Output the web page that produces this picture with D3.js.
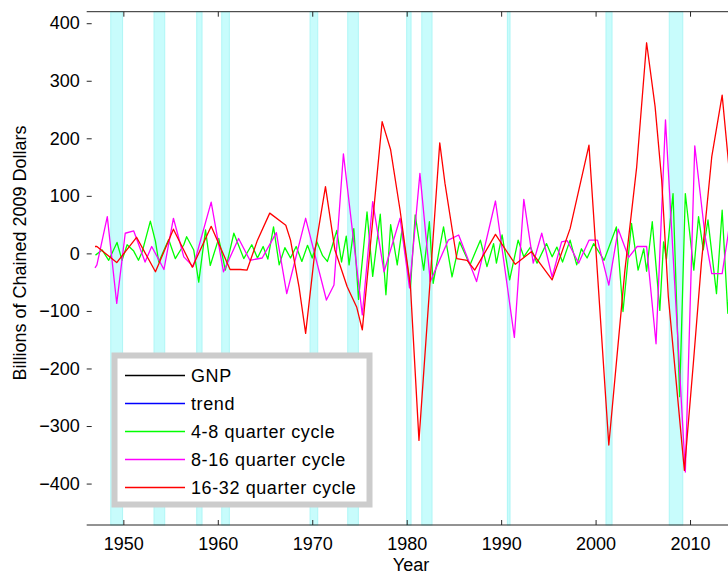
<!DOCTYPE html>
<html>
<head>
<meta charset="utf-8">
<script src="https://cdn.jsdelivr.net/npm/d3@7"></script>
<style>
  body { margin: 0; background: #fff; }
  text { font-family: "Liberation Sans", Arial, sans-serif; }
</style>
</head>
<body>
<div id="chart"></div>
<script>
// recession bands (start, end) in years
var recessions = [
  [1948.67, 1949.92], [1953.25, 1954.38], [1957.77, 1958.33], [1960.42, 1961.22],
  [1969.77, 1970.58], [1973.76, 1974.88], [1980.0, 1980.46], [1981.6, 1982.68],
  [1990.66, 1990.94], [2001.1, 2001.74], [2007.8, 2009.23]
];

// 16-32 quarter cycle
var redYears = [1947.0, 1947.2, 1949.3, 1951.4, 1953.4, 1955.3, 1957.3, 1959.3, 1961.3, 1962.4,
  1963.1, 1964.2, 1965.5, 1967.2, 1967.7, 1968.6, 1969.3, 1970.3, 1971.4, 1972.4, 1973.7, 1974.7,
  1975.3, 1977.4, 1978.3, 1979.3, 1980.4, 1981.3, 1983.5, 1984.05, 1985.1, 1985.3, 1986.4, 1987.2,
  1989.4, 1991.5, 1993.2, 1995.4, 1997.3, 1999.3, 2001.4, 2003.1, 2004.35, 2005.4, 2006.3, 2007.0,
  2007.7, 2009.4, 2010.35, 2011.2, 2012.3, 2013.4, 2014.75];
var redValues = [12, 12, -16, 28, -32, 42, -24, 47, -28, -28,
  -29, 23, 70, 49, 23, -58, -139, 6, 116, 6, -58, -93,
  -133, 229, 180, 75, -58, -325, 192, 122, 12, -9, -12, -29,
  33, -19, 3, -46, 43, 188, -333, -30, 150, 366, 255, 127,
  -75, -377, -191, -17, 168, 275, 40];

// 8-16 quarter cycle
var magYears = [1947.0, 1947.2, 1948.3, 1949.3, 1950.2, 1951.1, 1952.3, 1953.0, 1954.3, 1955.3,
  1956.4, 1957.4, 1959.3, 1960.6, 1962.2, 1963.4, 1964.7, 1966.2, 1967.3, 1969.3, 1971.5, 1972.3,
  1973.3, 1975.3, 1976.4, 1977.6, 1979.3, 1980.3, 1981.4, 1982.5, 1984.4, 1985.5, 1987.4, 1989.4,
  1991.4, 1992.4, 1993.4, 1994.3, 1995.4, 1996.4, 1997.0, 1998.2, 1999.3, 2000.2, 2001.4, 2002.4,
  2003.5, 2004.4, 2005.4, 2006.4, 2007.4, 2009.5, 2010.5, 2011.6, 2012.3, 2013.4, 2014.0, 2014.75];
var magValues = [-25, -20, 64, -87, 35, 39, -15, 12, -28, 61,
  -6, -23, 89, -32, 26, -12, -8, 36, -70, 61, -81, -55,
  173, -107, 90, -32, 61, -60, 139, -49, 23, 32, -49, 91,
  -146, 94, -17, 35, -41, 20, 22, -17, 23, 23, -55, 42,
  -7, 12, 12, -157, 232, -380, 187, 29, -35, -35, 29, 120];

// 4-8 quarter cycle
var grnYears = [1947.05, 1947.75, 1948.45, 1949.33, 1949.86, 1950.4, 1951.1, 1951.6, 1952.0, 1952.86,
  1953.4, 1953.75, 1954.8, 1955.5, 1956.4, 1956.7, 1957.45, 1957.98, 1958.7, 1959.2, 1960.1, 1960.8,
  1961.7, 1962.75, 1963.6, 1964.2, 1964.8, 1965.3, 1965.9, 1966.5, 1967.1, 1967.7, 1968.3, 1968.9,
  1969.5, 1970.0, 1970.5, 1971.1, 1971.6, 1972.1, 1972.6, 1973.1, 1973.6, 1973.9, 1974.4, 1974.9,
  1975.8, 1976.4, 1977.2, 1977.8, 1978.3, 1979.0, 1979.5, 1980.4, 1980.9, 1981.8, 1982.4, 1982.8,
  1983.9, 1984.8, 1985.6, 1986.7, 1987.8, 1988.5, 1989.2, 1989.5, 1990.1, 1990.9, 1991.8, 1992.4,
  1993.1, 1993.8, 1994.8, 1995.4, 1995.9, 1996.5, 1997.3, 1998.0, 1998.5, 1999.1, 1999.8, 2000.9,
  2002.2, 2002.9, 2003.8, 2004.5, 2005.1, 2005.4, 2006.0, 2006.8, 2007.2, 2007.5, 2008.2, 2008.9,
  2009.5, 2010.4, 2010.9, 2011.4, 2011.9, 2012.8, 2013.4, 2014.0, 2014.5];
var grnValues = [-3, 6, -12, 19, -12, 15, 4, -12, 3, 56,
  21, -15, 24, -9, 15, 29, 6, -50, 41, -21, 26, -29,
  35, -9, 15, -8, 12, -10, 46, -20, 10, -8, 12, -14,
  14, -8, 20, -4, -14, 12, 40, -15, 30, -20, 43, -80,
  72, -40, 68, -72, 50, -20, 41, -58, 67, -29, 55, -52,
  46, -41, 20, -20, 23, -23, 17, -17, 32, -46, 23, -6,
  11, -17, 17, -6, 11, -15, 23, -20, 8, -8, 17, -12,
  46, -101, 52, -29, 8, -31, 55, -99, 20, -10, 104, -249,
  104, -29, 64, 6, 58, -70, 75, -104, 40];

var legendLabels = ["GNP", "trend", "4-8 quarter cycle", "8-16 quarter cycle", "16-32 quarter cycle"];
var legendColors = ["#000000", "#0000ff", "#00ff00", "#ff00ff", "#ff0000"];

var yTicks = [-400, -300, -200, -100, 0, 100, 200, 300, 400];
var xTicks = [1950, 1960, 1970, 1980, 1990, 2000, 2010];

var W = 728, H = 576;
var plotL = 86.7, plotR = 735, plotT = 11.7, plotB = 525;

var svg = d3.select("#chart").append("svg")
  .attr("width", W).attr("height", H);

var x = d3.scaleLinear().domain([1946.12, 2014.76]).range([plotL, plotR]);
var y = d3.scaleLinear().domain([-472, 420]).range([plotB, plotT]);

svg.append("clipPath").attr("id", "plotclip")
  .append("rect").attr("x", plotL).attr("y", plotT)
  .attr("width", plotR - plotL).attr("height", plotB - plotT);

// recession shading
svg.append("g").selectAll("rect")
  .data(recessions).enter().append("rect")
  .attr("x", d => x(d[0]))
  .attr("width", d => x(d[1]) - x(d[0]))
  .attr("y", plotT).attr("height", plotB - plotT)
  .attr("fill", "#c8fcfc")
  .attr("stroke", "#aef6f6")
  .attr("stroke-width", 1);

// lines
var line = d3.line().x(d => x(d[0])).y(d => y(d[1]));
function pairs(ys, vs) { return ys.map((t, i) => [t, vs[i]]); }

var series = [
  {data: pairs(grnYears, grnValues), color: "#00ff00"},
  {data: pairs(magYears, magValues), color: "#ff00ff"},
  {data: pairs(redYears, redValues), color: "#ff0000"}
];

svg.append("g").attr("clip-path", "url(#plotclip)")
  .selectAll("path").data(series).enter().append("path")
  .attr("d", d => line(d.data))
  .attr("fill", "none")
  .attr("stroke", d => d.color)
  .attr("stroke-width", 1.3)
  .attr("stroke-linejoin", "round");

// axes
var axisColor = "#262626";
var xb = svg.append("g").attr("transform", "translate(0," + plotB + ")")
  .call(d3.axisBottom(x).tickValues(xTicks).tickFormat(d3.format("d")).tickSizeInner(-5).tickSizeOuter(0).tickPadding(12));
var xt = svg.append("g").attr("transform", "translate(0," + plotT + ")")
  .call(d3.axisTop(x).tickValues(xTicks).tickFormat("").tickSizeInner(-5).tickSizeOuter(0));
xt.selectAll("text").remove();
var yl = svg.append("g").attr("transform", "translate(" + plotL + ",0)")
  .call(d3.axisLeft(y).tickValues(yTicks).tickFormat(d3.format("d")).tickSizeInner(-5).tickSizeOuter(0).tickPadding(7));
yl.select(".domain").remove();

[xb, xt, yl].forEach(function(g) {
  g.selectAll("line, path").attr("stroke", axisColor);
  g.selectAll("text").attr("fill", "#000").style("font-size", "18px").attr("font-family", null);
});
xb.select(".domain").attr("d", "M" + plotL + ",0H" + W);
xt.select(".domain").attr("d", "M" + plotL + ",0H" + W);

// axis titles
svg.append("text")
  .attr("x", 411).attr("y", 571)
  .attr("text-anchor", "middle")
  .style("font-size", "18px")
  .text("Year");

svg.append("text")
  .attr("transform", "translate(26,253) rotate(-90)")
  .attr("text-anchor", "middle")
  .style("font-size", "18px")
  .text("Billions of Chained 2009 Dollars");

// legend
var lg = svg.append("g");
lg.append("rect")
  .attr("x", 114.5).attr("y", 355.5)
  .attr("width", 255).attr("height", 149)
  .attr("fill", "#fff")
  .attr("stroke", "#cccccc")
  .attr("stroke-width", 6);

var items = lg.selectAll("g.item").data(legendLabels).enter().append("g")
  .attr("class", "item")
  .attr("transform", (d, i) => "translate(0," + Math.round(374.5 + i * 28.2) + ")");
items.append("line")
  .attr("x1", 125).attr("x2", 185)
  .attr("y1", 0.5).attr("y2", 0.5)
  .attr("stroke", (d, i) => legendColors[i])
  .attr("stroke-width", 1.3);
items.append("text")
  .attr("x", 191).attr("y", 7)
  .style("font-size", "18px")
  .style("letter-spacing", "0.6px")
  .text(d => d);
</script>
</body>
</html>
